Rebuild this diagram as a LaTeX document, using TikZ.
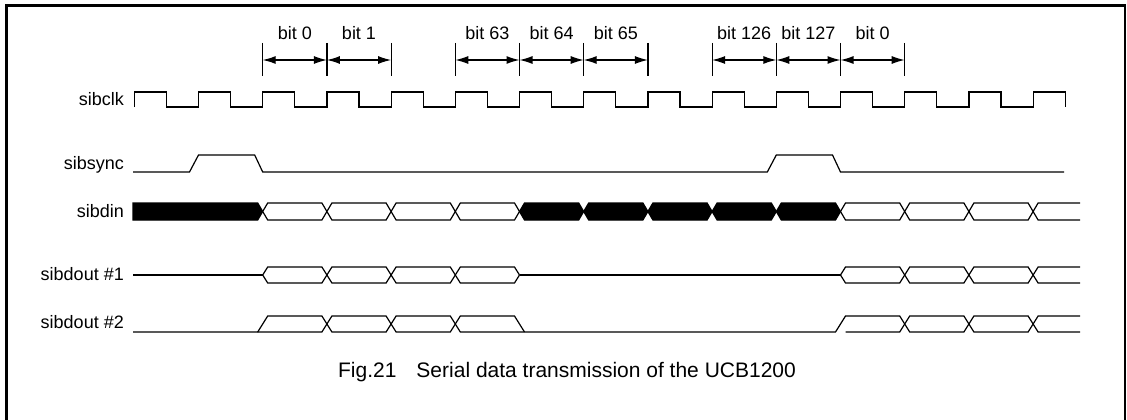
\documentclass[tikz,border=0pt]{standalone}
\usepackage{fontspec}
\setmainfont{Liberation Sans}
\usetikzlibrary{arrows.meta}

% clock timing: first rising edge and period
\def\xo{134.3}
\def\per{64.2}
\newcommand{\tx}[1]{\xo+#1*\per}

\tikzset{
  wave/.style={line width=1.2pt, line join=miter},
  siglabel/.style={anchor=base east, inner sep=0pt, font=\fontsize{18}{21}\selectfont},
  bitlabel/.style={anchor=base, inner sep=0pt, font=\fontsize{18}{21}\selectfont},
  bitmark/.style={line width=1.2pt},
  bitarrow/.style={line width=1.2pt, {Latex[length=13pt,width=8pt]}-{Latex[length=13pt,width=8pt]}}
}

\begin{document}
\begin{tikzpicture}[x=1pt, y=-1pt]
\useasboundingbox (0,0) rectangle (1127,420);
\clip (0,0) rectangle (1127,420);

% Frame
\draw[line width=2.5pt] (6.5,5.5) rectangle (1125,440);

% Signal names
\node[siglabel] (clk) at (124,106) {sibclk};
\node[siglabel] (sync) at (124,169) {sibsync};
\node[siglabel] (din) at (124,217) {sibdin};
\node[siglabel] (dout1) at (124,280) {sibdout \#1};
\node[siglabel] (dout2) at (124,328) {sibdout \#2};

% Bit markers
\foreach \k in {2,...,12}
  \coordinate (b\k) at ({\tx{\k}},60);
\foreach \k in {2,3,4,5,6,7,8,9,10,11,12}
  \draw[bitmark] ({\tx{\k}},43) -- ({\tx{\k}},76);
\foreach \a/\b/\t in {2/3/0, 3/4/1, 5/6/63, 6/7/64, 7/8/65, 9/10/126, 10/11/127, 11/12/0} {
  \draw[bitarrow] (b\a) -- (b\b);
  \node[bitlabel] (bit\a) at ({\tx{\a}+\per/2},40) {bit \t};
}

% sibclk
\draw[wave] ({\tx{0}},107)
  \foreach \k in {0,...,13} { -- ++(0,-15) -- ++({\per/2},0) -- ++(0,15) -- ++({\per/2},0) }
  -- ++(0,-15) -- ++({\per/2},0) -- ++(0,15);

% sibsync
\draw[wave] (133,172) -- ({\tx{1}-9},172) -- ({\tx{1}},155) -- ({\tx{2}-8},155) -- ({\tx{2}},172)
  -- ({\tx{10}-9},172) -- ({\tx{10}},155) -- ({\tx{11}-8},155) -- ({\tx{11}},172) -- (1064,172);

% sibdin
\draw[wave, fill=black] (133,203) -- ({\tx{2}-5},203) -- ({\tx{2}},211.5) -- ({\tx{2}-5},220) -- (133,220) -- cycle;
\foreach \k/\c in {2/white,3/white,4/white,5/white,6/black,7/black,8/black,9/black,10/black,11/white,12/white,13/white}
  \draw[wave, fill=\c] ({\tx{\k}},211.5) -- ({\tx{\k}+5},203) -- ({\tx{\k}+\per-5},203) -- ({\tx{\k}+\per},211.5)
    -- ({\tx{\k}+\per-5},220) -- ({\tx{\k}+5},220) -- cycle;
\draw[wave] (1080,203) -- ({\tx{14}+5},203) -- ({\tx{14}},211.5) -- ({\tx{14}+5},220) -- (1080,220);

% sibdout #1
\draw[wave] (133,275) -- ({\tx{2}},275);
\draw[wave] ({\tx{6}},275) -- ({\tx{11}},275);
\foreach \k in {2,3,4,5,11,12,13}
  \draw[wave] ({\tx{\k}},275) -- ({\tx{\k}+5},267) -- ({\tx{\k}+\per-5},267) -- ({\tx{\k}+\per},275)
    -- ({\tx{\k}+\per-5},283) -- ({\tx{\k}+5},283) -- cycle;
\draw[wave] (1080,267) -- ({\tx{14}+5},267) -- ({\tx{14}},275) -- ({\tx{14}+5},283) -- (1080,283);

% sibdout #2
\draw[wave] (133,332) -- ({\tx{2}-5},332) -- ({\tx{2}+5},316) -- ({\tx{3}-5},316) -- ({\tx{3}},324);
\draw[wave] ({\tx{2}-5},332) -- ({\tx{3}-5},332) -- ({\tx{3}},324);
\foreach \k in {3,4,12,13}
  \draw[wave] ({\tx{\k}},324) -- ({\tx{\k}+5},316) -- ({\tx{\k}+\per-5},316) -- ({\tx{\k}+\per},324)
    -- ({\tx{\k}+\per-5},332) -- ({\tx{\k}+5},332) -- cycle;
\draw[wave] ({\tx{5}},324) -- ({\tx{5}+5},316) -- ({\tx{6}-5},316) -- ({\tx{6}+5},332);
\draw[wave] ({\tx{5}},324) -- ({\tx{5}+5},332) -- ({\tx{11}-5},332) -- ({\tx{11}+5},316) -- ({\tx{12}-5},316) -- ({\tx{12}},324);
\draw[wave] ({\tx{11}+5},332) -- ({\tx{12}-5},332) -- ({\tx{12}},324);
\draw[wave] (1080,316) -- ({\tx{14}+5},316) -- ({\tx{14}},324) -- ({\tx{14}+5},332) -- (1080,332);

% Caption
\node[anchor=base, inner sep=0pt, font=\fontsize{21}{24}\selectfont] (caption) at (567,377)
  {Fig.21\hspace{20pt}Serial data transmission of the UCB1200};
\end{tikzpicture}
\end{document}
